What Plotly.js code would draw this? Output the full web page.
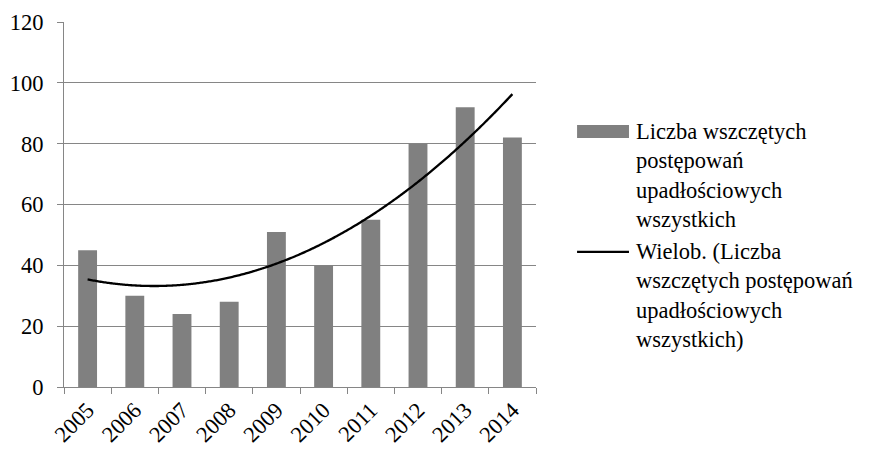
<!DOCTYPE html>
<html>
<head>
<meta charset="utf-8">
<script src="https://cdn.plot.ly/plotly-3.0.1.min.js"></script>
<style>
  html, body { margin: 0; padding: 0; background: #fff; }
  #chart { width: 869px; height: 449px; }
</style>
</head>
<body>
<div id="chart"></div>
<script>
// Number of bankruptcy proceedings opened per year
const years = ['2005', '2006', '2007', '2008', '2009', '2010', '2011', '2012', '2013', '2014'];
const cases = [45, 30, 24, 28, 51, 40, 55, 80, 92, 82];

const barName = 'Liczba wszczętych<br>postępowań<br>upadłościowych<br>wszystkich';
const trendName = 'Wielob. (Liczba<br>wszczętych postępowań<br>upadłościowych<br>wszystkich)';

// Second-order least-squares polynomial through the yearly counts
function polyFit2(xs, ys) {
  let s0 = xs.length, s1 = 0, s2 = 0, s3 = 0, s4 = 0, t0 = 0, t1 = 0, t2 = 0;
  xs.forEach((x, i) => {
    const y = ys[i];
    s1 += x; s2 += x * x; s3 += x * x * x; s4 += x * x * x * x;
    t0 += y; t1 += x * y; t2 += x * x * y;
  });
  // Solve the 3x3 normal equations with Cramer's rule
  const det = (m) =>
    m[0][0] * (m[1][1] * m[2][2] - m[1][2] * m[2][1]) -
    m[0][1] * (m[1][0] * m[2][2] - m[1][2] * m[2][0]) +
    m[0][2] * (m[1][0] * m[2][1] - m[1][1] * m[2][0]);
  const A = [[s0, s1, s2], [s1, s2, s3], [s2, s3, s4]];
  const B = [t0, t1, t2];
  const D = det(A);
  const coef = [0, 1, 2].map(k => {
    const M = A.map((row, r) => row.map((v, c) => (c === k ? B[r] : v)));
    return det(M) / D;
  });
  return x => coef[0] + coef[1] * x + coef[2] * x * x;
}

const idx = years.map((_, i) => i);
const trend = polyFit2(idx, cases);
const trendX = [], trendY = [];
const steps = 180;
for (let k = 0; k <= steps; k++) {
  const x = (idx.length - 1) * k / steps;
  trendX.push(x);
  trendY.push(trend(x));
}

const gray = '#868686';
const barColor = '#808080';
const mkFont = () => ({ family: 'Liberation Serif', size: 22.5, color: '#000000' });

const data = [
  {
    type: 'bar',
    x: years,
    y: cases,
    name: barName,
    marker: { color: barColor, line: { width: 0 } },
    showlegend: false
  },
  {
    type: 'scatter',
    mode: 'lines',
    x: trendX,
    y: trendY,
    xaxis: 'x2',
    name: trendName,
    line: { color: '#000', width: 2.3, shape: 'spline' },
    showlegend: false
  }
];

// Key drawn to the right of the plot: swatch + wrapped label for each series
const keyLeft = 1.087, keyRight = 1.197, keyText = 1.208;
const shapes = [
  { type: 'rect', xref: 'paper', yref: 'paper', x0: keyLeft, x1: keyRight, y0: 0.682, y1: 0.718,
    fillcolor: barColor, line: { width: 0 } },
  { type: 'line', xref: 'paper', yref: 'paper', x0: keyLeft, x1: keyRight, y0: 0.370, y1: 0.370,
    line: { color: '#000', width: 2.3 } }
];
const annotations = [
  { text: barName, xref: 'paper', yref: 'paper', x: keyText, y: 0.740, xanchor: 'left', yanchor: 'top',
    align: 'left', showarrow: false, font: mkFont() },
  { text: trendName, xref: 'paper', yref: 'paper', x: keyText, y: 0.410, xanchor: 'left', yanchor: 'top',
    align: 'left', showarrow: false, font: mkFont() }
];

const layout = {
  width: 869,
  height: 449,
  margin: { l: 64, r: 333, t: 22, b: 62 },
  paper_bgcolor: '#fff',
  plot_bgcolor: '#fff',
  font: mkFont(),
  bargap: 0.6,
  showlegend: false,
  xaxis: {
    type: 'category',
    tickson: 'boundaries',
    ticks: 'outside',
    ticklen: 6,
    tickcolor: gray,
    tickwidth: 1,
    showline: true,
    linecolor: gray,
    linewidth: 1,
    showgrid: false,
    tickangle: -45,
    tickfont: mkFont(),
    fixedrange: true
  },
  xaxis2: {
    overlaying: 'x',
    range: [-0.5, years.length - 0.5],
    visible: false,
    fixedrange: true
  },
  yaxis: {
    range: [0, 120],
    dtick: 20,
    ticks: 'outside',
    ticklen: 6,
    tickcolor: gray,
    tickwidth: 1,
    showline: true,
    linecolor: gray,
    linewidth: 1,
    showgrid: true,
    gridcolor: gray,
    gridwidth: 1,
    zeroline: false,
    tickfont: mkFont(),
    ticklabelstandoff: 9,
    fixedrange: true
  },
  shapes: shapes,
  annotations: annotations
};

Plotly.newPlot('chart', data, layout, { displayModeBar: false, staticPlot: true });
</script>
</body>
</html>
